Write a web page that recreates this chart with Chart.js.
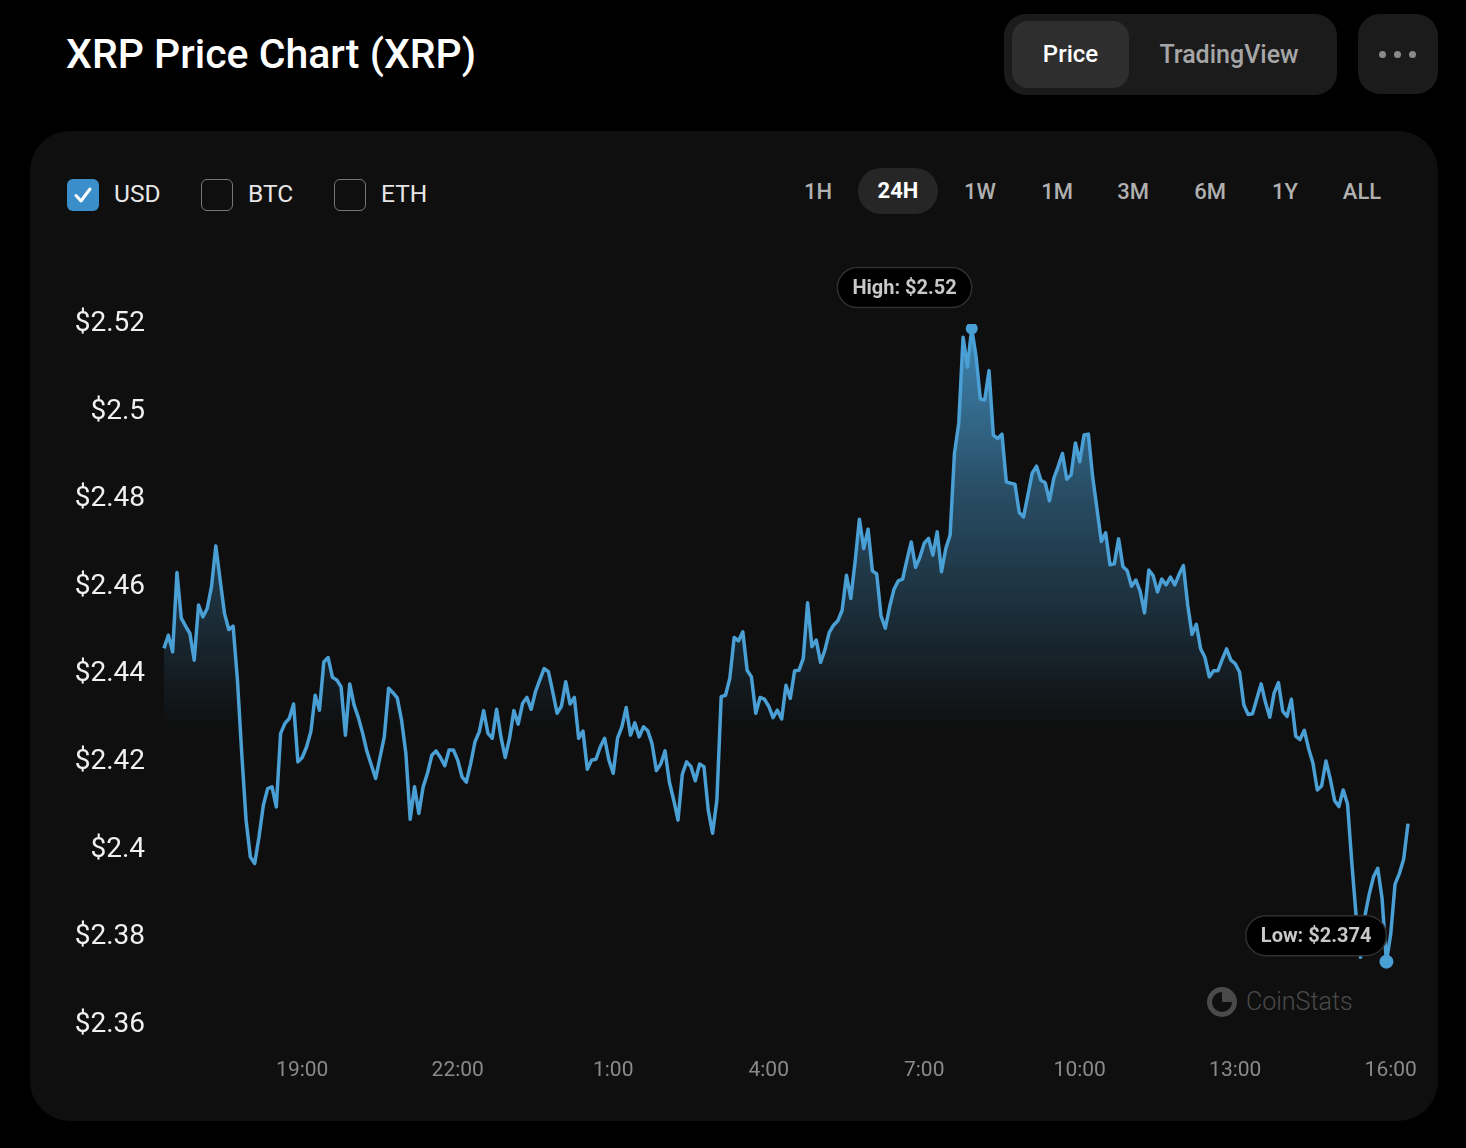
<!DOCTYPE html>
<html><head><meta charset="utf-8">
<script src="https://cdn.jsdelivr.net/npm/chart.js@4.4.0/dist/chart.umd.min.js"></script>
<style>
html,body{margin:0;padding:0;background:#000;width:1466px;height:1148px;overflow:hidden;font-family:Roboto,"Noto Sans",sans-serif;}
.abs{position:absolute;}
.title{left:66px;top:26px;font-size:41px;font-weight:500;color:#fff;line-height:56px;white-space:nowrap;}
.seg{left:1004px;top:14px;width:333px;height:81px;border-radius:22px;background:#1b1b1b;}
.segbtn{top:21px;height:67px;line-height:67px;font-size:24px;font-weight:500;text-align:center;}
.more{left:1358px;top:14px;width:80px;height:80px;border-radius:22px;background:#1b1b1b;}
.dot{width:7px;height:7px;border-radius:50%;background:#8a8a8a;top:51px;}
.card{left:30px;top:131px;width:1408px;height:990px;border-radius:40px;background:#0f0f0f;}
.cb{top:179px;width:32px;height:32px;border-radius:6px;box-sizing:border-box;}
.cbl{top:178px;font-size:24.5px;color:#e6e6e6;line-height:32px;}
.tb{top:170px;font-size:22px;font-weight:500;color:#b0b0b0;line-height:44px;text-align:center;width:80px;}
.wm{left:1206px;top:985px;height:34px;color:#4a4a4a;font-size:25px;font-weight:300;line-height:34px;display:flex;align-items:center;gap:8px;}
canvas{position:absolute;left:0;top:0;}
</style></head>
<body>
<div class="abs title">XRP Price Chart (XRP)</div>
<div class="abs seg"></div>
<div class="abs segbtn" style="left:1012px;width:117px;border-radius:16px;background:#2e2e2e;color:#fff;">Price</div>
<div class="abs segbtn" style="left:1139px;width:180px;color:#a6a6a6;font-size:25px;">TradingView</div>
<div class="abs more"></div>
<div class="abs dot" style="left:1379px;"></div>
<div class="abs dot" style="left:1394px;"></div>
<div class="abs dot" style="left:1409px;"></div>
<div class="abs card"></div>

<div class="abs cb" style="left:67px;background:#3a8fcb;">
<svg width="32" height="32" viewBox="0 0 32 32"><path d="M9 16.5 L14 22 L23 10" stroke="#fff" stroke-width="3" fill="none" stroke-linecap="round" stroke-linejoin="round"/></svg></div>
<div class="abs cbl" style="left:114px;">USD</div>
<div class="abs cb" style="left:201px;border:1.5px solid #777;"></div>
<div class="abs cbl" style="left:248px;">BTC</div>
<div class="abs cb" style="left:334px;border:1.5px solid #777;"></div>
<div class="abs cbl" style="left:381px;">ETH</div>

<div class="abs tb" style="left:778px;">1H</div>
<div class="abs tb" style="left:858px;top:168px;height:46px;line-height:46px;border-radius:23px;background:#262626;color:#fff;font-weight:700;">24H</div>
<div class="abs tb" style="left:940px;">1W</div>
<div class="abs tb" style="left:1017px;">1M</div>
<div class="abs tb" style="left:1093px;">3M</div>
<div class="abs tb" style="left:1170px;">6M</div>
<div class="abs tb" style="left:1245px;">1Y</div>
<div class="abs tb" style="left:1322px;">ALL</div>

<div class="abs wm"><svg width="32" height="32" viewBox="0 0 32 32"><circle cx="16" cy="16" r="12.5" stroke="#4a4a4a" stroke-width="5" fill="none"/><path d="M16 16 L16 3.5 A12.5 12.5 0 0 1 28.5 16 Z" fill="#4a4a4a"/></svg><span>CoinStats</span></div>

<canvas id="c" width="1466" height="1148"></canvas>
<script>
const startTime = "16:20";
const intervalMinutes = 5;
const prices = [2.4455,2.4485,2.4447,2.4628,2.4524,2.4506,2.4489,2.4428,2.4554,2.4527,
2.4546,2.4596,2.4689,2.4611,2.4535,2.4498,2.4506,2.4383,2.4215,2.4063,
2.3979,2.3964,2.4025,2.4097,2.4135,2.4139,2.4093,2.4261,2.4284,2.4295,
2.4328,2.4196,2.4206,2.4230,2.4265,2.4348,2.4314,2.4424,2.4434,2.4389,
2.4383,2.4367,2.4257,2.4374,2.4326,2.4297,2.4261,2.4219,2.4189,2.4158,
2.4206,2.4253,2.4364,2.4354,2.4342,2.4291,2.4215,2.4065,2.4139,2.4078,
2.4139,2.4170,2.4211,2.4221,2.4206,2.4187,2.4223,2.4223,2.4200,2.4162,
2.4150,2.4192,2.4242,2.4265,2.4313,2.4261,2.4250,2.4316,2.4253,2.4206,
2.4250,2.4313,2.4282,2.4329,2.4343,2.4316,2.4356,2.4383,2.4409,2.4402,
2.4356,2.4307,2.4323,2.4379,2.4328,2.4343,2.4250,2.4266,2.4179,2.4200,
2.4202,2.4230,2.4250,2.4200,2.4170,2.4250,2.4276,2.4320,2.4257,2.4285,
2.4253,2.4276,2.4267,2.4237,2.4176,2.4191,2.4221,2.4150,2.4109,2.4063,
2.4168,2.4196,2.4185,2.4153,2.4191,2.4185,2.4086,2.4033,2.4109,2.4345,
2.4348,2.4387,2.4480,2.4472,2.4493,2.4405,2.4390,2.4307,2.4343,2.4339,
2.4323,2.4297,2.4314,2.4294,2.4371,2.4341,2.4404,2.4405,2.4432,2.4559,
2.4459,2.4474,2.4423,2.4451,2.4491,2.4508,2.4518,2.4542,2.4622,2.4569,
2.4653,2.4750,2.4683,2.4727,2.4632,2.4625,2.4529,2.4501,2.4550,2.4590,
2.4609,2.4613,2.4657,2.4698,2.4640,2.4663,2.4695,2.4706,2.4668,2.4721,
2.4630,2.4683,2.4714,2.4900,2.4969,2.5165,2.5097,2.5185,2.5121,2.5024,
2.5022,2.5089,2.4942,2.4934,2.4944,2.4835,2.4832,2.4830,2.4765,2.4755,
2.4805,2.4855,2.4871,2.4839,2.4833,2.4792,2.4843,2.4870,2.4900,2.4841,
2.4851,2.4924,2.4881,2.4942,2.4944,2.4846,2.4773,2.4699,2.4719,2.4646,
2.4648,2.4705,2.4642,2.4632,2.4597,2.4611,2.4585,2.4536,2.4634,2.4621,
2.4584,2.4613,2.4600,2.4618,2.4600,2.4624,2.4644,2.4554,2.4487,2.4510,
2.4454,2.4434,2.4390,2.4404,2.4404,2.4430,2.4454,2.4428,2.4420,2.4401,
2.4326,2.4304,2.4306,2.4340,2.4374,2.4332,2.4298,2.4353,2.4377,2.4312,
2.4300,2.4339,2.4255,2.4247,2.4268,2.4226,2.4193,2.4132,2.4141,2.4198,
2.4157,2.4108,2.4094,2.4132,2.4100,2.3965,2.3843,2.3750,2.3843,2.3893,
2.3933,2.3953,2.3884,2.3740,2.3803,2.3917,2.3941,2.3974,2.4055];
const xTickLabels = ["19:00","22:00","1:00","4:00","7:00","10:00","13:00","16:00"];
const yTickValues = [2.36,2.38,2.40,2.42,2.44,2.46,2.48,2.50,2.52];

function toMin(s){const p=s.split(':');return (+p[0])*60+(+p[1]);}
const startMin = toMin(startTime);
function offsetOf(label){let m=toMin(label)-startMin; if(m<0) m+=1440; return m;}
const points = prices.map((v,i)=>({x:i*intervalMinutes, y:v}));
const xTickVals = xTickLabels.map(offsetOf);
const hiIdx = prices.indexOf(Math.max(...prices));
const loIdx = prices.indexOf(Math.min(...prices));
const LINE = '#4a9fd5';

const pillPlugin = {
  id:'pills',
  afterDatasetsDraw(chart){
    const ctx = chart.ctx, xs = chart.scales.x, ys = chart.scales.y;
    const draw = (idx, text, dy) => {
      const px = xs.getPixelForValue(points[idx].x), py = ys.getPixelForValue(points[idx].y);
      ctx.save();
      ctx.font = '700 20px Roboto, sans-serif';
      const w = ctx.measureText(text).width + 30, h = 40;
      const x0 = px - w, cy = py - dy;
      ctx.beginPath();
      ctx.roundRect(x0, cy - h/2, w, h, h/2);
      ctx.fillStyle = '#000'; ctx.fill();
      ctx.lineWidth = 1.5; ctx.strokeStyle = '#303030'; ctx.stroke();
      ctx.fillStyle = '#c8c8c8'; ctx.textAlign = 'center'; ctx.textBaseline = 'middle';
      ctx.fillText(text, x0 + w/2, cy + 1);
      ctx.restore();
    };
    draw(hiIdx, 'High: $' + prices[hiIdx].toFixed(2), 41);
    draw(loIdx, 'Low: $' + prices[loIdx].toFixed(3), 26);
  }
};

new Chart(document.getElementById('c'), {
  type:'line',
  data:{datasets:[{
    data: points,
    borderColor: LINE,
    borderWidth: 3.5,
    tension: 0,
    borderJoinStyle:'round',
    clip: {left:8, right:8, top:0, bottom:8},
    fill: 'start',
    backgroundColor: (c) => {
      const ca = c.chart.chartArea; if(!ca) return 'transparent';
      const g = c.chart.ctx.createLinearGradient(0, 320, 0, 730);
      g.addColorStop(0, 'rgba(74,159,213,0.85)');
      g.addColorStop(0.4, 'rgba(74,159,213,0.45)');
      g.addColorStop(1, 'rgba(74,159,213,0)');
      return g;
    },
    pointRadius: (c) => (c.dataIndex===hiIdx ? 6 : c.dataIndex===loIdx ? 7 : 0),
    pointBackgroundColor: LINE,
    pointBorderWidth: 0,
    pointHoverRadius: 0
  }]},
  options:{
    responsive:false, animation:false, devicePixelRatio:1,
    layout:{padding:{top:324,right:58,bottom:0,left:0}},
    plugins:{legend:{display:false},tooltip:{enabled:false}},
    scales:{
      x:{type:'linear', min:0, max:(prices.length-1)*intervalMinutes,
        grid:{display:false, drawTicks:false}, border:{display:false},
        afterFit(s){s.height=125;},
        afterBuildTicks(s){s.ticks = xTickVals.map(v=>({value:v}));},
        ticks:{autoSkip:false, maxRotation:0, padding:35, color:'#8a8a8a',
          font:{family:'Roboto', size:21},
          callback:(v)=>{const i=xTickVals.indexOf(v); return i>=0?xTickLabels[i]:'';}}
      },
      y:{min:2.36, max:2.51954,
        grid:{display:false, drawTicks:false}, border:{display:false},
        afterFit(s){s.width=164;},
        afterBuildTicks(s){s.ticks = yTickValues.map(v=>({value:v}));},
        ticks:{padding:19, labelOffset:2, color:'#f0f0f0', font:{family:'Roboto', size:28},
          callback:(v)=>'$'+Number(v.toFixed(2))}
      }
    }
  },
  plugins:[pillPlugin]
});
</script>
</body></html>
